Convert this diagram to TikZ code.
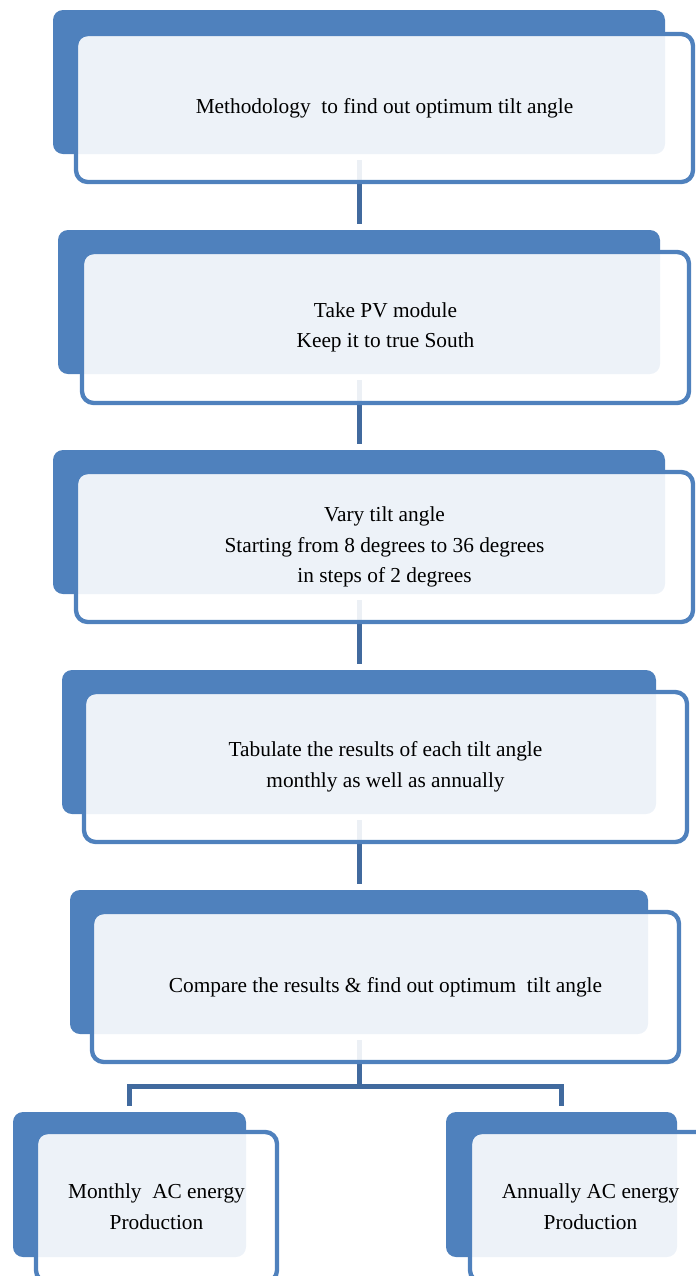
\documentclass[tikz,border=0pt]{standalone}
\usepackage{fontspec}
\setmainfont{Liberation Serif}
\definecolor{azul}{HTML}{4F81BD}
\definecolor{azulosc}{HTML}{416A9E}
\tikzset{
  fondo/.style={draw=none, fill=azul, rounded corners=6pt, inner sep=0pt, minimum height=86.4pt},
  tarjeta/.style={draw=azul, line width=2.6pt, fill=white, fill opacity=0.9, text opacity=1, rounded corners=7pt, inner sep=0pt, align=center, font=\fontsize{12.8}{18.4}\selectfont, minimum height=90pt},
  enlace/.style={draw=azulosc, line width=3pt, shorten <=3.6pt, shorten >=3.6pt},
}
\begin{document}
\begin{tikzpicture}[x=0.6pt, y=-0.6pt]
  \useasboundingbox (0,0) rectangle (696,1276);
  % fondos
  \foreach \n/\y/\w in {p1/82/367.2, p2/302/361.2, p3/522/367.2, p4/742/356.4, p5/962/346.8}
    \node[fondo, minimum width=\w pt] (\n) at (359,\y) {};
  \node[fondo, minimum width=139.8pt, minimum height=87pt] (q1) at (129.5,1184.5) {};
  \node[fondo, minimum width=138.6pt, minimum height=87pt] (q2) at (561.5,1184.5) {};
  % enlaces
  \foreach \a/\b in {p1/p2, p2/p3, p3/p4, p4/p5}
    \draw[enlace] (\a.south) -- (\b.north);
  \coordinate (rama) at (359,1086);
  \draw[enlace, shorten >=0pt] (p5.south) -- (rama);
  \draw[enlace, shorten <=0pt] (rama) -| (q1.north);
  \draw[enlace, shorten <=0pt] (rama) -| (q2.north);
  % tarjetas
  \node[tarjeta, minimum width=370.2pt, minimum height=88.8pt] (t1) at (384.5,108) {Methodology\ \ to find out optimum tilt angle};
  \node[tarjeta, minimum width=364.2pt, minimum height=90.6pt] (t2) at (385.5,327.5) {Take PV module\\Keep it to true South};
  \node[tarjeta, minimum width=370.2pt] (t3) at (384.5,547) {Vary tilt angle\\Starting from 8 degrees to 36 degrees\\in steps of 2 degrees};
  \node[tarjeta, minimum width=361.8pt] (t4) at (385.5,767) {Tabulate the results of each tilt angle\\monthly as well as annually};
  \node[tarjeta, minimum width=352.2pt] (t5) at (385.5,987) {Compare the results \& find out optimum\ \ tilt angle};
  \node[tarjeta, minimum width=144.6pt] (u1) at (156.5,1207) {Monthly\ \ AC energy\\Production};
  \node[tarjeta, minimum width=144.6pt] (u2) at (590.5,1207) {Annually AC energy\\Production};
\end{tikzpicture}
\end{document}
